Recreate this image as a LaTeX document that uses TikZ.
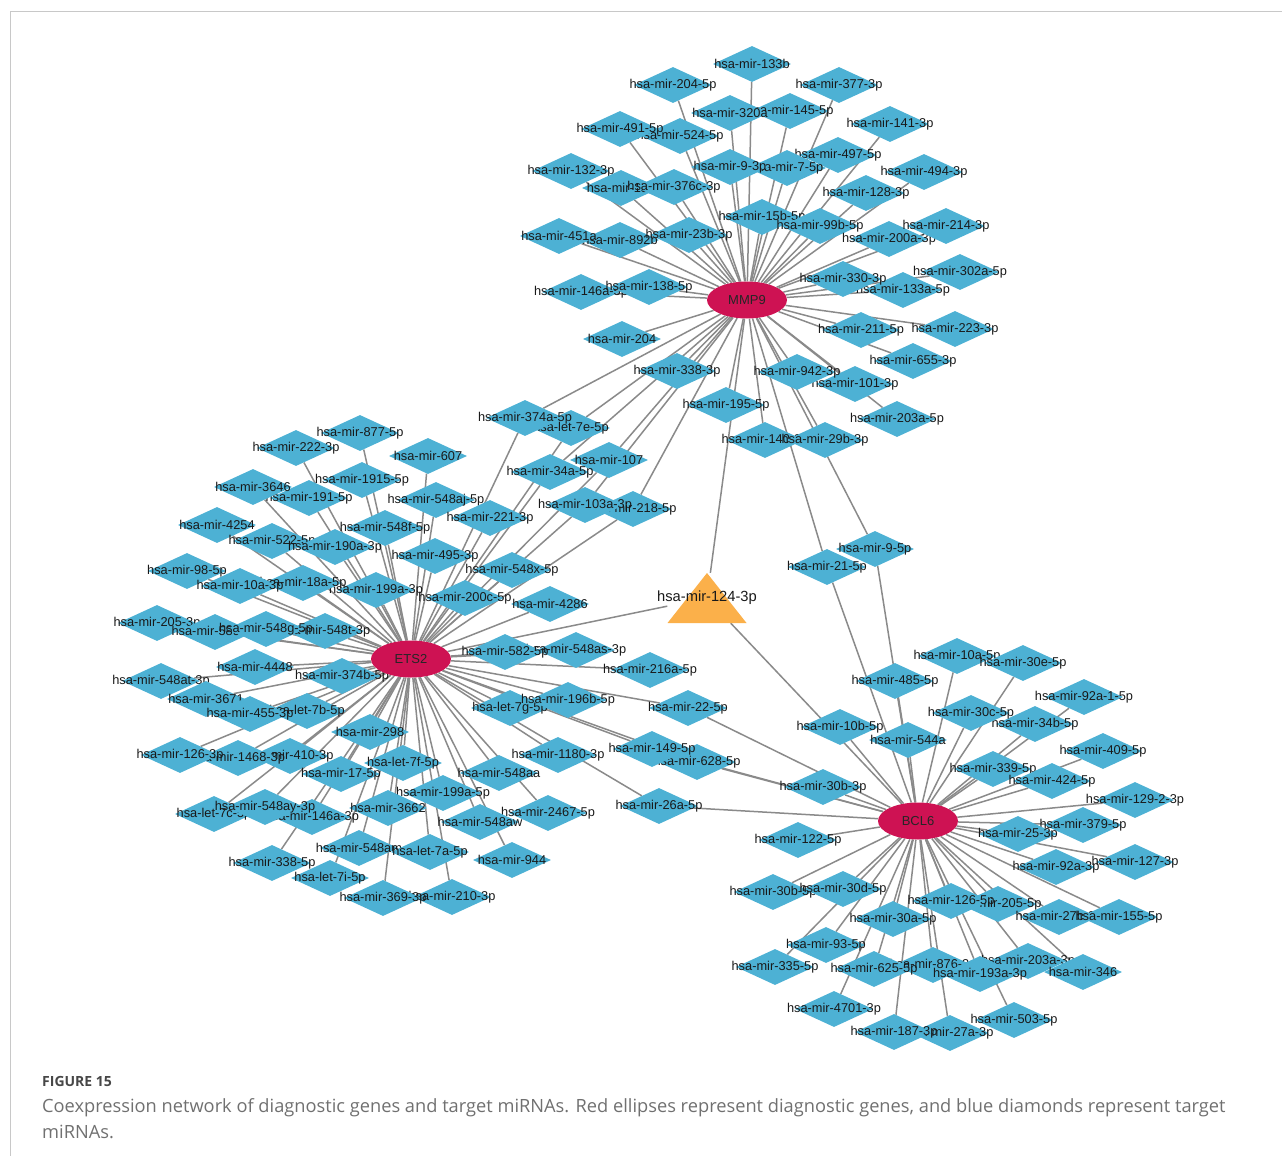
\documentclass[tikz,border=0pt]{standalone}
\usepackage{fontspec}
\setmainfont{Liberation Sans}
\newfontfamily\capfont{Open Sans}
\usetikzlibrary{shapes.geometric,backgrounds}
\definecolor{mirblue}{HTML}{4DB1D4}
\definecolor{genered}{HTML}{CE1253}
\definecolor{triorange}{HTML}{FBB04A}
\definecolor{conngray}{HTML}{8A8A8A}
\definecolor{framegray}{HTML}{C8C8C8}
\definecolor{capgray}{HTML}{707070}
\newcommand\mir[4]{\node[mirna] (#1) at (#2,#3) {\makebox[0pt]{#4}};}
\tikzset{
  mirna/.style={diamond, fill=mirblue, minimum width=78pt, minimum height=36pt, inner sep=0pt,
    font=\fontsize{12.8}{14}\selectfont, text=black!90},
  gene/.style={ellipse, fill=genered, minimum width=80pt, minimum height=37pt, inner sep=0pt,
    font=\fontsize{13}{15}\selectfont, text=black!85},
  trinode/.style={rectangle, minimum width=79pt, minimum height=50pt, inner sep=0pt,
    font=\fontsize{14.7}{16}\selectfont, text=black!90,
    path picture={\fill[triorange] (path picture bounding box.south west) -- (path picture bounding box.south east) -- (path picture bounding box.north) -- cycle;}},
  conn/.style={draw=conngray, line width=1.5pt}
}
\begin{document}
\begin{tikzpicture}[x=1pt,y=-1pt]
\useasboundingbox (0,0) rectangle (1282,1156);
\draw[framegray, line width=1pt] (10,1156) -- (10,12) -- (1282,12);
% ---------- MMP9 cluster ----------
\mir{m133b}{752}{64}{hsa-mir-133b}
\mir{m204F}{673}{85}{hsa-mir-204-5p}
\mir{m377T}{839}{85}{hsa-mir-377-3p}
\mir{m145F}{790}{111}{hsa-mir-145-5p}
\mir{m320a}{730}{113}{hsa-mir-320a}
\mir{m141T}{890}{124}{hsa-mir-141-3p}
\mir{m524F}{680}{136}{hsa-mir-524-5p}
\mir{m491F}{620}{129}{hsa-mir-491-5p}
\mir{m497F}{838}{155}{hsa-mir-497-5p}
\mir{m132T}{571}{171}{hsa-mir-132-3p}
\mir{m7F}{787}{168}{hsa-mir-7-5p}
\mir{m9T}{730}{167}{hsa-mir-9-3p}
\mir{m494T}{924}{172}{hsa-mir-494-3p}
\mir{m152}{621}{188}{hsa-mir-152}
\mir{m376cT}{674}{187}{hsa-mir-376c-3p}
\mir{m128T}{866}{193}{hsa-mir-128-3p}
\mir{m15bF}{762}{217}{hsa-mir-15b-5p}
\mir{m99bF}{820}{226}{hsa-mir-99b-5p}
\mir{m200aT}{889}{239}{hsa-mir-200a-3p}
\mir{m214T}{946}{226}{hsa-mir-214-3p}
\mir{m892b}{620}{240}{hsa-mir-892b}
\mir{m451a}{559}{236}{hsa-mir-451a}
\mir{m23bT}{689}{235}{hsa-mir-23b-3p}
\mir{m133aF}{903}{290}{hsa-mir-133a-5p}
\mir{m330T}{843}{279}{hsa-mir-330-3p}
\mir{m302aF}{960}{272}{hsa-mir-302a-5p}
\mir{m146aF}{581}{292}{hsa-mir-146a-5p}
\mir{m138F}{649}{287}{hsa-mir-138-5p}
\mir{m211F}{861}{330}{hsa-mir-211-5p}
\mir{m223T}{955}{329}{hsa-mir-223-3p}
\mir{m655T}{913}{361}{hsa-mir-655-3p}
\mir{m204}{622}{339}{hsa-mir-204}
\mir{m338T}{677}{371}{hsa-mir-338-3p}
\mir{m101T}{855}{384}{hsa-mir-101-3p}
\mir{m942T}{797}{372}{hsa-mir-942-3p}
\mir{m195F}{726}{405}{hsa-mir-195-5p}
\mir{m203aF}{897}{419}{hsa-mir-203a-5p}
\mir{m140T}{765}{440}{hsa-mir-140-3p}
\mir{m29bT}{825}{440}{hsa-mir-29b-3p}
% ---------- shared MMP9 / ETS2 ----------
\mir{l7eF}{571}{428}{hsa-let-7e-5p}
\mir{m374aF}{525}{418}{hsa-mir-374a-5p}
\mir{m107}{609}{460}{hsa-mir-107}
\mir{m34aF}{550}{472}{hsa-mir-34a-5p}
\mir{m218F}{633}{509}{hsa-mir-218-5p}
\mir{m103aT}{585}{505}{hsa-mir-103a-3p}
% ---------- shared MMP9 / BCL6 ----------
\mir{m9F}{875}{549}{hsa-mir-9-5p}
\mir{m21F}{827}{567}{hsa-mir-21-5p}
% ---------- ETS2 cluster ----------
\mir{m877F}{360}{433}{hsa-mir-877-5p}
\mir{m222T}{296}{448}{hsa-mir-222-3p}
\mir{m607}{428}{456}{hsa-mir-607}
\mir{m191F}{309}{498}{hsa-mir-191-5p}
\mir{m3646}{253}{487}{hsa-mir-3646}
\mir{m1915F}{362}{480}{hsa-mir-1915-5p}
\mir{m548ajF}{436}{500}{hsa-mir-548aj-5p}
\mir{m221T}{490}{518}{hsa-mir-221-3p}
\mir{m4254}{217}{525}{hsa-mir-4254}
\mir{m522F}{272}{541}{hsa-mir-522-5p}
\mir{m190aT}{335}{547}{hsa-mir-190a-3p}
\mir{m548fF}{385}{528}{hsa-mir-548f-5p}
\mir{m495T}{435}{556}{hsa-mir-495-3p}
\mir{m548xF}{512}{570}{hsa-mir-548x-5p}
\mir{m98F}{187}{571}{hsa-mir-98-5p}
\mir{m199aT}{376}{590}{hsa-mir-199a-3p}
\mir{m18aF}{303}{583}{hsa-mir-18a-5p}
\mir{m10aT}{240}{586}{hsa-mir-10a-3p}
\mir{m200cF}{465}{598}{hsa-mir-200c-5p}
\mir{m4286}{550}{604}{hsa-mir-4286}
\mir{m205T}{157}{623}{hsa-mir-205-3p}
\mir{m589T}{215}{632}{hsa-mir-589-3p}
\mir{m548tT}{325}{631}{hsa-mir-548t-3p}
\mir{m548gF}{266}{629}{hsa-mir-548g-5p}
\mir{m4448}{255}{667}{hsa-mir-4448}
\mir{m548atT}{161}{681}{hsa-mir-548at-3p}
\mir{m374bF}{342}{676}{hsa-mir-374b-5p}
\mir{m3671}{206}{699}{hsa-mir-3671}
\mir{l7bF}{307}{711}{hsa-let-7b-5p}
\mir{m455T}{250}{714}{hsa-mir-455-3p}
\mir{m298}{370}{732}{hsa-mir-298}
\mir{m410T}{290}{756}{hsa-mir-410-3p}
\mir{m1468T}{238}{758}{hsa-mir-1468-3p}
\mir{m126T}{180}{755}{hsa-mir-126-3p}
\mir{l7fF}{403}{763}{hsa-let-7f-5p}
\mir{m17F}{341}{774}{hsa-mir-17-5p}
\mir{m548aa}{499}{773}{hsa-mir-548aa}
\mir{m199aF}{443}{793}{hsa-mir-199a-5p}
\mir{l7cF}{214}{814}{hsa-let-7c-5p}
\mir{m146aT}{312}{817}{hsa-mir-146a-3p}
\mir{m548ayT}{265}{807}{hsa-mir-548ay-3p}
\mir{m3662}{388}{808}{hsa-mir-3662}
\mir{m2467F}{548}{813}{hsa-mir-2467-5p}
\mir{m548aw}{480}{822}{hsa-mir-548aw}
\mir{m548am}{359}{848}{hsa-mir-548am}
\mir{l7aF}{430}{852}{hsa-let-7a-5p}
\mir{m944}{512}{860}{hsa-mir-944}
\mir{m338F}{272}{863}{hsa-mir-338-5p}
\mir{l7iF}{330}{878}{hsa-let-7i-5p}
\mir{m210T}{452}{897}{hsa-mir-210-3p}
\mir{m369T}{383}{898}{hsa-mir-369-3p}
\mir{m548asT}{576}{650}{hsa-mir-548as-3p}
\mir{m582F}{505}{652}{hsa-mir-582-5p}
\mir{m216aF}{650}{670}{hsa-mir-216a-5p}
\mir{l7gF}{510}{708}{hsa-let-7g-5p}
\mir{m196bF}{568}{700}{hsa-mir-196b-5p}
\mir{m1180T}{558}{755}{hsa-mir-1180-3p}
% ---------- shared ETS2 / BCL6 ----------
\mir{m22F}{688}{708}{hsa-mir-22-5p}
\mir{m628F}{697}{762}{hsa-mir-628-5p}
\mir{m149F}{652}{749}{hsa-mir-149-5p}
\mir{m26aF}{659}{806}{hsa-mir-26a-5p}
% ---------- BCL6 cluster ----------
\mir{m30bT}{823}{787}{hsa-mir-30b-3p}
\mir{m10bF}{840}{727}{hsa-mir-10b-5p}
\mir{m485F}{895}{681}{hsa-mir-485-5p}
\mir{m544a}{908}{740}{hsa-mir-544a}
\mir{m10aF}{957}{656}{hsa-mir-10a-5p}
\mir{m30eF}{1023}{663}{hsa-mir-30e-5p}
\mir{m34bF}{1035}{724}{hsa-mir-34b-5p}
\mir{m30cF}{971}{713}{hsa-mir-30c-5p}
\mir{m92a1F}{1084}{697}{hsa-mir-92a-1-5p}
\mir{m409F}{1103}{751}{hsa-mir-409-5p}
\mir{m339F}{993}{769}{hsa-mir-339-5p}
\mir{m424F}{1052}{781}{hsa-mir-424-5p}
\mir{m129T}{1135}{800}{hsa-mir-129-2-3p}
\mir{m379F}{1083}{825}{hsa-mir-379-5p}
\mir{m25T}{1018}{834}{hsa-mir-25-3p}
\mir{m127T}{1135}{862}{hsa-mir-127-3p}
\mir{m92aT}{1056}{867}{hsa-mir-92a-3p}
\mir{m122F}{798}{840}{hsa-mir-122-5p}
\mir{m30bF}{773}{892}{hsa-mir-30b-5p}
\mir{m30dF}{843}{889}{hsa-mir-30d-5p}
\mir{m205F}{998}{904}{hsa-mir-205-5p}
\mir{m126F}{951}{901}{hsa-mir-126-5p}
\mir{m30aF}{893}{919}{hsa-mir-30a-5p}
\mir{m27bT}{1059}{917}{hsa-mir-27b-3p}
\mir{m155F}{1119}{917}{hsa-mir-155-5p}
\mir{m93F}{826}{945}{hsa-mir-93-5p}
\mir{m335F}{775}{967}{hsa-mir-335-5p}
\mir{m876T}{933}{965}{hsa-mir-876-3p}
\mir{m625F}{874}{969}{hsa-mir-625-5p}
\mir{m203aT}{1028}{961}{hsa-mir-203a-3p}
\mir{m193aT}{980}{974}{hsa-mir-193a-3p}
\mir{m346}{1083}{972}{hsa-mir-346}
\mir{m4701T}{834}{1009}{hsa-mir-4701-3p}
\mir{m503F}{1014}{1020}{hsa-mir-503-5p}
\mir{m27aT}{950}{1033}{hsa-mir-27a-3p}
\mir{m187T}{894}{1032}{hsa-mir-187-3p}
% ---------- hub nodes ----------
\node[trinode] (t124) at (707,598) {\makebox[0pt]{hsa-mir-124-3p}};
\node[gene] (MMP9) at (747,300) {MMP9};
\node[gene] (ETS2) at (411,659) {ETS2};
\node[gene] (BCL6) at (918,821) {BCL6};
% ---------- connectors ----------
\begin{scope}[on background layer]
\foreach \n in {m133b,m204F,m377T,m320a,m145F,m141T,m524F,m491F,m497F,m132T,m7F,m9T,m494T,m152,m376cT,m128T,m15bF,m99bF,m200aT,m214T,m892b,m451a,m23bT,m133aF,m330T,m302aF,m146aF,m138F,m211F,m223T,m655T,m204,m338T,m101T,m942T,m195F,m203aF,m140T,m29bT,l7eF,m374aF,m107,m34aF,m218F,m103aT,m9F,m21F,t124}
  \draw[conn] (MMP9) -- (\n);
\foreach \n in {l7eF,m374aF,m107,m34aF,m218F,m103aT,m877F,m222T,m607,m191F,m3646,m1915F,m548ajF,m221T,m4254,m522F,m190aT,m548fF,m495T,m548xF,m98F,m199aT,m18aF,m10aT,m200cF,m4286,m205T,m589T,m548tT,m548gF,m4448,m548atT,m374bF,m3671,l7bF,m455T,m298,m410T,m1468T,m126T,l7fF,m17F,m548aa,m199aF,l7cF,m146aT,m548ayT,m3662,m2467F,m548aw,m548am,l7aF,m944,m338F,l7iF,m210T,m369T,m548asT,m582F,m216aF,l7gF,m196bF,m1180T,m22F,m628F,m149F,m26aF,t124}
  \draw[conn] (ETS2) -- (\n);
\foreach \n in {m9F,m21F,m22F,m628F,m149F,m26aF,t124,m30bT,m10bF,m485F,m544a,m10aF,m30eF,m34bF,m30cF,m92a1F,m409F,m339F,m424F,m129T,m379F,m25T,m127T,m92aT,m122F,m30bF,m30dF,m205F,m126F,m30aF,m27bT,m155F,m93F,m335F,m876T,m625F,m203aT,m193aT,m346,m4701T,m503F,m27aT,m187T}
  \draw[conn] (BCL6) -- (\n);
\end{scope}
% ---------- caption ----------
\node[anchor=west, inner sep=0pt, font=\capfont\bfseries\fontsize{14}{16}\selectfont, text=black!72] (figlab) at (42,1081) {FIGURE 15};
\node[anchor=west, inner sep=0pt, font=\capfont\fontsize{18.25}{21}\selectfont, text=capgray] (cap1) at (42,1108) {Coexpression network of diagnostic genes and target miRNAs. Red ellipses represent diagnostic genes, and blue diamonds represent target};
\node[anchor=west, inner sep=0pt, font=\capfont\fontsize{18.25}{21}\selectfont, text=capgray] (cap2) at (42,1132) {miRNAs.};
\end{tikzpicture}
\end{document}
